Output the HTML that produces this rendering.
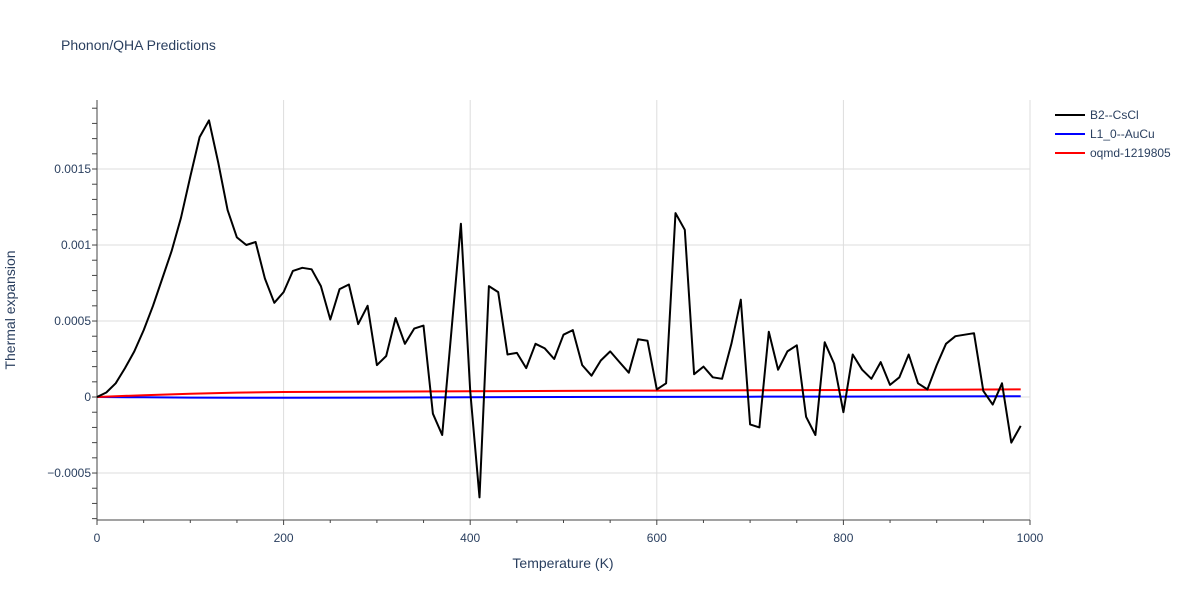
<!DOCTYPE html>
<html><head><meta charset="utf-8"><style>
body{margin:0;background:#fff;font-family:"Liberation Sans",sans-serif;}
text{font-family:"Liberation Sans",sans-serif;}
</style></head><body>
<svg id="chart" width="1200" height="600" xmlns="http://www.w3.org/2000/svg">
<rect width="1200" height="600" fill="#fff"/>
<text x="61" y="50" font-size="14" fill="#2a3f5f">Phonon/QHA Predictions</text>
<g id="grid"></g>
<g id="axes"></g>
<g id="series"></g>
<text x="563" y="568" font-size="14" fill="#2a3f5f" text-anchor="middle">Temperature (K)</text>
<text transform="translate(15,310) rotate(-90)" font-size="14" fill="#2a3f5f" text-anchor="middle">Thermal expansion</text>
<g id="legend"></g>
</svg>
<script>
const temps = [];
for (let t = 0; t <= 990; t += 10) temps.push(t);
const b2Values = [0,0.00003,0.00009,0.00019,0.0003,0.00044,0.0006,0.00078,0.00096,0.00118,0.00145,0.00171,0.00182,0.00154,0.00123,0.00105,0.001,0.00102,0.00078,0.00062,0.00069,0.00083,0.00085,0.00084,0.00073,0.00051,0.00071,0.00074,0.00048,0.0006,0.00021,0.00027,0.00052,0.00035,0.00045,0.00047,-0.00011,-0.00025,0.00044,0.00114,0.00004,-0.00066,0.00073,0.00069,0.00028,0.00029,0.00019,0.00035,0.00032,0.00025,0.00041,0.00044,0.00021,0.00014,0.00024,0.0003,0.00023,0.00016,0.00038,0.00037,0.00005,0.00009,0.00121,0.0011,0.00015,0.0002,0.00013,0.00012,0.00035,0.00064,-0.00018,-0.0002,0.00043,0.00018,0.0003,0.00034,-0.00013,-0.00025,0.00036,0.00022,-0.0001,0.00028,0.00018,0.00012,0.00023,0.00008,0.00013,0.00028,0.00009,0.00005,0.00021,0.00035,0.0004,0.00041,0.00042,0.00004,-0.00005,0.00009,-0.0003,-0.00019];
const smoothTemps = [0,50,100,150,200,300,400,500,600,700,800,900,990];
const l10Values = [0,-0.000002,-0.000004,-0.000005,-0.000005,-0.000004,-0.000002,0,0.000001,0.000002,0.000003,0.000004,0.000005];
const oqmdValues = [0,0.000012,0.000022,0.000029,0.000033,0.000036,0.000038,0.00004,0.000042,0.000044,0.000046,0.000048,0.00005];
const xTicks = [0,200,400,600,800,1000];
const yTicks = [-0.0005,0,0.0005,0.001,0.0015];
const yTickLabels = ["\u22120.0005","0","0.0005","0.001","0.0015"];
const seriesNames = ["B2--CsCl","L1_0--AuCu","oqmd-1219805"];
const seriesColors = ["#000000","#0000ff","#ff0000"];

const X0=97,X1=1030,Y0=100,Y1=520;
const xMin=0,xMax=1000,yMin=-0.000809,yMax=0.001954;
const xs=v=>X0+(v-xMin)/(xMax-xMin)*(X1-X0);
const ys=v=>Y1-(v-yMin)/(yMax-yMin)*(Y1-Y0);
const NS="http://www.w3.org/2000/svg";
function mk(tag,attrs,parent){const e=document.createElementNS(NS,tag);for(const k in attrs)e.setAttribute(k,attrs[k]);parent.appendChild(e);return e;}
const grid=document.getElementById('grid'),axes=document.getElementById('axes'),series=document.getElementById('series'),legend=document.getElementById('legend');
xTicks.forEach(t=>{
  if(t>0){const l=mk('line',{x1:xs(t),x2:xs(t),y1:Y0,y2:Y1,stroke:'#dddddd','stroke-width':1},grid);
  
  }
  const tx=mk('text',{x:xs(t),y:Y1+22,'font-size':12,fill:'#2a3f5f','text-anchor':'middle'},axes);
  tx.textContent=t;
  
  
});
yTicks.forEach((t,i)=>{
  const l=mk('line',{x1:X0,x2:X1,y1:ys(t),y2:ys(t),stroke:'#dddddd','stroke-width':1},grid);
  
  
  const tx=mk('text',{x:X0-6,y:ys(t)+4,'font-size':12,fill:'#2a3f5f','text-anchor':'end'},axes);
  tx.textContent=yTickLabels[i];
  
  
});
for(let t=0;t<=1000;t+=50){mk('line',{x1:xs(t),x2:xs(t),y1:Y1,y2:Y1+(t%200===0?5:3),stroke:'#444','stroke-width':1},axes);}
for(let v=-0.0008;v<=0.00195;v+=0.0001){mk('line',{x1:X0-(Math.abs(Math.round(v*20000)-v*20000)<1e-6?5:3),x2:X0,y1:ys(v),y2:ys(v),stroke:'#444','stroke-width':1},axes);}
const xa=mk('line',{x1:X0,x2:X1,y1:Y1,y2:Y1,stroke:'#444','stroke-width':1},axes);


const ya=mk('line',{x1:X0,x2:X0,y1:Y0,y2:Y1,stroke:'#444','stroke-width':1},axes);


function pts(tx,vals){return tx.map((t,i)=>xs(t).toFixed(1)+','+ys(vals[i]).toFixed(1)).join(' ');}
const s1=mk('polyline',{points:pts(smoothTemps,l10Values),fill:'none',stroke:seriesColors[1],'stroke-width':2},series);


const s2=mk('polyline',{points:pts(smoothTemps,oqmdValues),fill:'none',stroke:seriesColors[2],'stroke-width':2},series);


const s0=mk('polyline',{points:pts(temps,b2Values),fill:'none',stroke:seriesColors[0],'stroke-width':2,'stroke-linejoin':'round'},series);


seriesNames.forEach((n,i)=>{
  const g=mk('g',{},legend);
  
  
  const y=115+i*19;
  mk('line',{x1:1055,x2:1085,y1:y,y2:y,stroke:seriesColors[i],'stroke-width':2},g);
  const tx=mk('text',{x:1090,y:y+4,'font-size':12,fill:'#2a3f5f'},g);
  tx.textContent=n;
});
</script>
</body></html>
